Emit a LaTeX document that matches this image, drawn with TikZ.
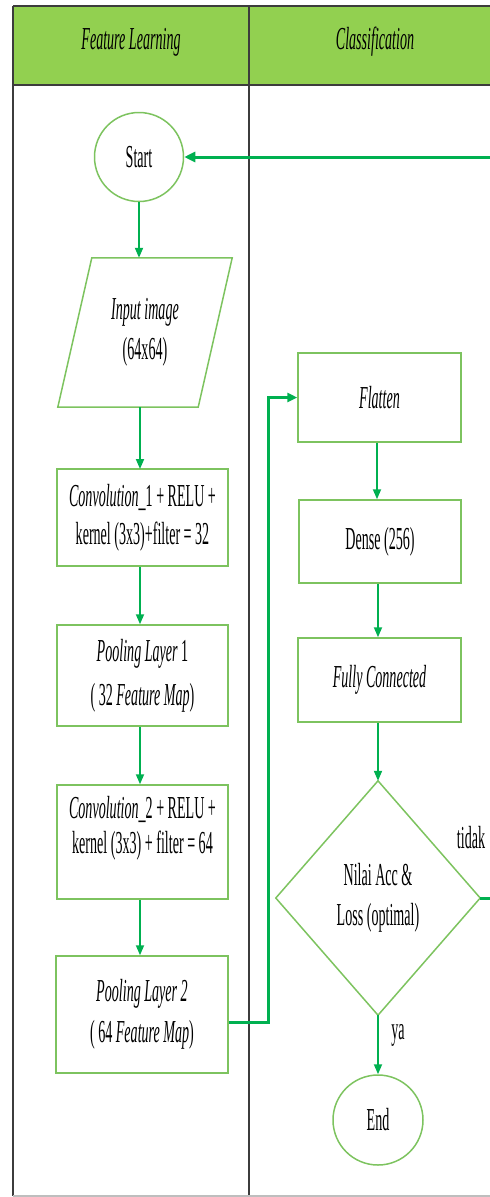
\documentclass[tikz,border=0pt]{standalone}
\usepackage{fontspec}
\setmainfont{Liberation Serif}[FakeStretch=0.44]
\usetikzlibrary{arrows.meta,calc}
\definecolor{hdr}{RGB}{146,208,80}
\definecolor{nodeline}{RGB}{125,195,95}
\definecolor{flow}{RGB}{0,176,80}
\definecolor{framec}{RGB}{60,60,60}
\definecolor{framelight}{RGB}{190,190,190}
\begin{document}
\begin{tikzpicture}[x=1pt,y=-1pt,
  txt/.style={font=\fontsize{32}{40}\selectfont, align=center, inner sep=0pt},
  box/.style={txt, draw=nodeline, line width=1.5pt, fill=white},
  hidden/.style={txt, draw=none},
  term/.style={txt, draw=nodeline, line width=1.5pt, circle, minimum size=89pt},
  flowarrow/.style={draw=flow, line width=1.8pt, -{Triangle[length=10pt,width=8pt]}},
  thickflow/.style={draw=flow, line width=3pt},
  framestyle/.style={draw=framec, line width=1.4pt}
]
\useasboundingbox (0,0) rectangle (490,1197);
% swimlane frame
\fill[hdr] (13,6) rectangle (500,85);
\draw[framestyle] (13,6) -- (500,6);
\draw[framestyle] (13,85) -- (500,85);
\draw[framestyle] (13,6) -- (13,1196);
\draw[framestyle] (249,6) -- (249,1196);
\draw[draw=framelight, line width=1.4pt] (13,1196) -- (500,1196);
\node[txt] (h1) at (131,42) {\itshape Feature Learning};
\node[txt] (h2) at (375,42) {\itshape Classification};

% left lane
\node[term] (start) at (139,157) {Start};
\node[hidden, minimum width=140pt, minimum height=149pt] (input) at (145,332.5) {\itshape Input image\\(64x64)};
\draw[draw=nodeline, line width=1.5pt]
  ($(input.north west)+(17,0)$) -- ($(input.north east)+(17,0)$) --
  ($(input.south east)+(-17,0)$) -- ($(input.south west)+(-17,0)$) -- cycle;
\node[box, minimum width=171pt, minimum height=97pt, font=\fontsize{32}{38}\selectfont] (conv1) at (142.5,517.5)
  {\textit{Convolution}\_1 + RELU +\\kernel (3x3)+filter = 32};
\node[box, minimum width=171pt, minimum height=101pt, font=\fontsize{32}{44}\selectfont] (pool1) at (142.5,675.5)
  {\textit{Pooling Layer} 1\\( 32 \textit{Feature Map})};
\node[box, minimum width=171pt, minimum height=114pt, font=\fontsize{32}{35}\selectfont] (conv2) at (142.5,842)
  {\textit{Convolution}\_2 + RELU +\\kernel (3x3) + filter = 64\\\mbox{}};
\node[box, minimum width=172pt, minimum height=117pt, font=\fontsize{32}{41}\selectfont] (pool2) at (142,1014.5)
  {\textit{Pooling Layer 2}\\( 64 \textit{Feature Map})};

% right lane
\node[box, minimum width=163pt, minimum height=89pt] (flatten) at (379.5,397.5) {\itshape Flatten};
\node[box, minimum width=162pt, minimum height=83pt] (dense) at (380,541.5) {Dense (256)};
\node[box, minimum width=163pt, minimum height=84pt] (fc) at (379.5,680) {\itshape Fully Connected};
\node[hidden, minimum width=204pt, minimum height=234pt] (dec) at (378,898) {Nilai Acc \&\\Loss (optimal)};
\draw[draw=nodeline, line width=1.5pt] (dec.north) -- (dec.east) -- (dec.south) -- (dec.west) -- cycle;
\node[term, minimum size=90pt] (end) at (378,1120) {End};
\node[txt] (tidak) at (471,838) {tidak};
\node[txt] (ya) at (398,1035) {ya};

% connectors
\draw[flowarrow] (start.south) -- (start.south |- input.north);
\draw[flowarrow] (140,407) -- (140,469);
\draw[flowarrow] (conv1.south -| 140,0) -- (pool1.north -| 140,0);
\draw[flowarrow] (pool1.south -| 140,0) -- (conv2.north -| 140,0);
\draw[flowarrow] (conv2.south -| 140,0) -- (pool2.north -| 140,0);
\coordinate (p2out) at ($(pool2.east)+(0,7.5)$);
\coordinate (bend1) at (268,0);
\draw[thickflow, -{Triangle[length=10pt,width=9pt]}] (p2out) -- (p2out -| bend1) -- (bend1 |- flatten.west) -- (flatten.west);
\draw[flowarrow] (flatten.south -| 377,0) -- (dense.north -| 377,0);
\draw[flowarrow] (dense.south -| 378,0) -- (fc.north -| 378,0);
\draw[flowarrow] (fc.south -| 378,0) -- (dec.north);
\draw[flowarrow] (dec.south) -- (end.north);
\coordinate (ret) at (500,0);
\draw[thickflow, -{Triangle[length=11pt,width=10pt]}] (dec.east) -- (dec.east -| ret) -- (ret |- start.east) -- (start.east);
\end{tikzpicture}
\end{document}
